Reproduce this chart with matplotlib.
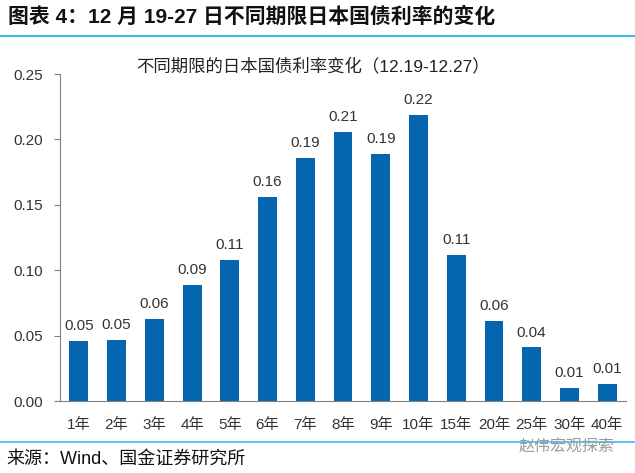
import matplotlib
matplotlib.use("Agg")
import matplotlib.pyplot as plt
from matplotlib.lines import Line2D

plt.rcParams['font.family'] = ['Liberation Sans', 'Noto Sans CJK SC', 'DejaVu Sans']

# data
tenors = ["1年", "2年", "3年", "4年", "5年", "6年", "7年", "8年", "9年", "10年",
          "15年", "20年", "25年", "30年", "40年"]
changes = [0.046, 0.047, 0.063, 0.089, 0.108, 0.156, 0.186, 0.206, 0.189, 0.219,
           0.112, 0.061, 0.041, 0.010, 0.013]
yticks = [0.00, 0.05, 0.10, 0.15, 0.20, 0.25]

bar_color = "#0565ae"
text_color = "#333333"
line_blue = "#3dbbec"

fig = plt.figure(figsize=(6.35, 4.73), dpi=100)
W, H = 635, 473
ax = fig.add_axes([60 / W, 1 - 401 / H, (626 - 60) / W, (401 - 74) / H])

x = range(len(tenors))
ax.bar(x, changes, width=0.5, color=bar_color)
for xi, v in zip(x, changes):
    ax.text(xi, v + 0.006, f"{v:.2f}", ha="center", va="bottom",
            fontsize=11, color=text_color)

ax.set_xlim(-0.5, len(tenors) - 0.5)
ax.set_ylim(0, 0.25)
ax.set_yticks(yticks)
ax.set_yticklabels([f"{t:.2f}" for t in yticks], fontsize=11, color=text_color)
ax.set_xticks(list(x))
ax.set_xticklabels(tenors, fontsize=11, color=text_color)
ax.tick_params(axis="x", length=0, pad=12)
ax.tick_params(axis="y", length=4, direction="out", color="#808080", pad=8)
for side in ["top", "right"]:
    ax.spines[side].set_visible(False)
ax.spines["left"].set_color("#808080")
ax.spines["bottom"].set_color("#808080")

fig.text(313 / W, 1 - 66 / H, "不同期限的日本国债利率变化（12.19-12.27）",
         ha="center", va="center", fontsize=12.5, color="#222222")

# header and footer
fig.text(8 / W, 1 - 17 / H, "图表 4：12 月 19-27 日不同期限日本国债利率的变化",
         ha="left", va="center", fontsize=15, fontweight="bold", color="#111111")
fig.add_artist(Line2D([0, 1], [1 - 36 / H, 1 - 36 / H], color=line_blue, lw=1.5,
                      transform=fig.transFigure))
fig.add_artist(Line2D([0, 1], [1 - 442 / H, 1 - 442 / H], color=line_blue, lw=1.2,
                      transform=fig.transFigure))
fig.text(6 / W, 1 - 459 / H, "来源：Wind、国金证券研究所", ha="left", va="center",
         fontsize=13, color="#111111")
fig.text(615 / W, 1 - 447 / H, "赵伟宏观探索", ha="right", va="center",
         fontsize=11.5, color="#9a9a9a")

fig.savefig("out.png", dpi=100)
